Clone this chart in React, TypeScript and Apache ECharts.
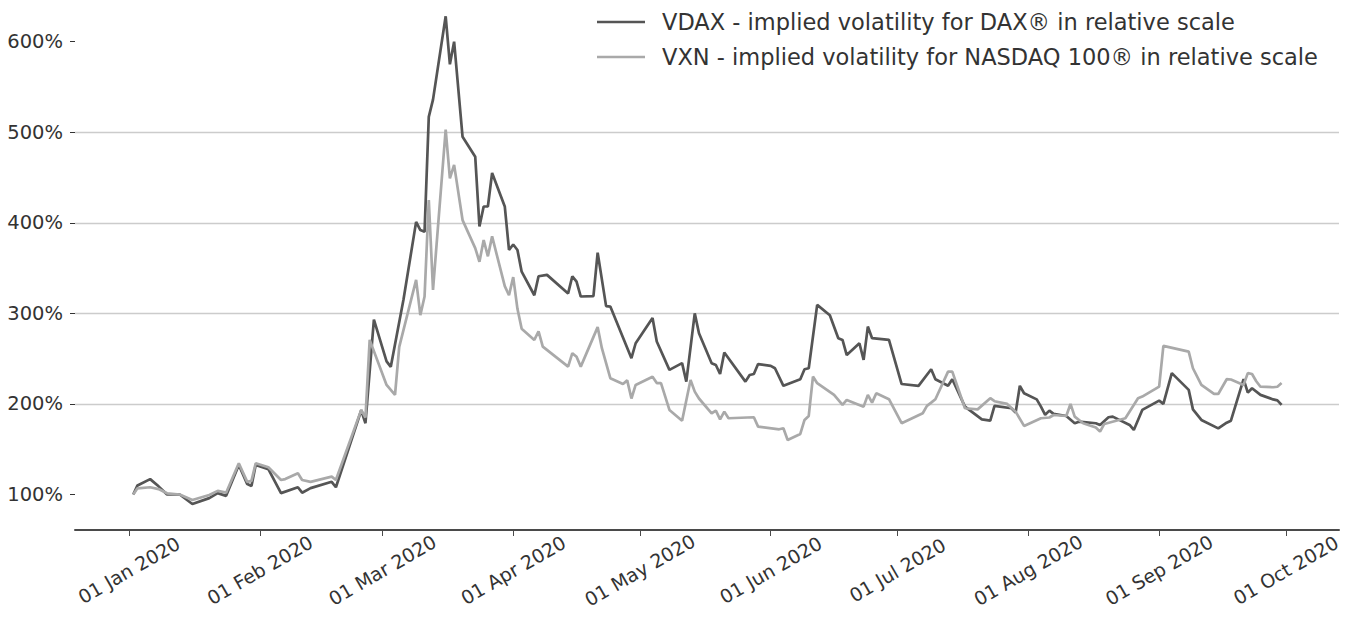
import React, { useEffect, useRef } from "react";
import * as echarts from "echarts";

// ---- data ----
const vdaxDates = [
  "2020-01-02","2020-01-03","2020-01-06","2020-01-08","2020-01-10","2020-01-13","2020-01-16","2020-01-20","2020-01-22","2020-01-24","2020-01-27","2020-01-29","2020-01-30","2020-01-31",
  "2020-02-03","2020-02-06","2020-02-10","2020-02-11","2020-02-13","2020-02-18","2020-02-19","2020-02-25","2020-02-26","2020-02-28",
  "2020-03-02","2020-03-03","2020-03-06","2020-03-09","2020-03-10","2020-03-11","2020-03-12","2020-03-13","2020-03-16","2020-03-17","2020-03-18","2020-03-20","2020-03-23","2020-03-24","2020-03-25","2020-03-26","2020-03-27","2020-03-30","2020-03-31",
  "2020-04-01","2020-04-02","2020-04-03","2020-04-06","2020-04-07","2020-04-09","2020-04-14","2020-04-15","2020-04-16","2020-04-17","2020-04-20","2020-04-21","2020-04-23","2020-04-24","2020-04-29","2020-04-30",
  "2020-05-04","2020-05-05","2020-05-08","2020-05-11","2020-05-12","2020-05-14","2020-05-15","2020-05-18","2020-05-19","2020-05-20","2020-05-21","2020-05-26","2020-05-27","2020-05-28","2020-05-29",
  "2020-06-01","2020-06-02","2020-06-04","2020-06-08","2020-06-09","2020-06-10","2020-06-12","2020-06-15","2020-06-17","2020-06-18","2020-06-19","2020-06-22","2020-06-23","2020-06-24","2020-06-25","2020-06-29",
  "2020-07-02","2020-07-06","2020-07-09","2020-07-10","2020-07-13","2020-07-14","2020-07-17","2020-07-21","2020-07-23","2020-07-24","2020-07-28","2020-07-29","2020-07-30","2020-07-31",
  "2020-08-03","2020-08-04","2020-08-05","2020-08-06","2020-08-07","2020-08-10","2020-08-12","2020-08-13","2020-08-17","2020-08-18","2020-08-20","2020-08-21","2020-08-25","2020-08-26","2020-08-28",
  "2020-09-01","2020-09-02","2020-09-04","2020-09-08","2020-09-09","2020-09-11","2020-09-15","2020-09-17","2020-09-18","2020-09-21","2020-09-22","2020-09-23","2020-09-25","2020-09-28","2020-09-29","2020-09-30",
];
const vdaxValues = [
  100,110,117,109,100,100,89.5,96,101.5,98.5,132.5,111.5,109.5,132.5,
  128,101.5,108,102,107,114,108,193,178.7,293,
  247,241,315,401,392,390,517,536,628,575,600,495,473,396,418,418,455,418,370,
  376,370,346,320,341,342.5,322,341,335,318.6,319,367,308,307.5,250.5,267,
  295,269,237.6,245,224.6,300,278,245,243,233,256.7,224.6,232,233,244,
  242,239.4,220,227.3,238.3,239.4,309.4,298,272.6,270.7,254,267,248.6,285.4,272.6,270.7,
  222,220,238.3,227.3,220,227.3,197,183,181.5,197.8,195.2,190.4,220,211.8,
  205,197,188,192.6,189,186.7,178.7,180.4,178.7,176.8,185.3,186,176.8,171.3,193.4,
  203.7,200,234,215.5,194,182.3,173,179.3,181.5,227.3,212.5,217.3,210,205,204,199,
];

const vxnDates = [
  "2020-01-02","2020-01-03","2020-01-06","2020-01-08","2020-01-10","2020-01-13","2020-01-16","2020-01-20","2020-01-22","2020-01-24","2020-01-27","2020-01-29","2020-01-30","2020-01-31",
  "2020-02-03","2020-02-06","2020-02-07","2020-02-10","2020-02-11","2020-02-13","2020-02-18","2020-02-19","2020-02-25","2020-02-26","2020-02-27",
  "2020-03-02","2020-03-04","2020-03-05","2020-03-09","2020-03-10","2020-03-11","2020-03-12","2020-03-13","2020-03-16","2020-03-17","2020-03-18","2020-03-20","2020-03-23","2020-03-24","2020-03-25","2020-03-26","2020-03-27","2020-03-30","2020-03-31",
  "2020-04-01","2020-04-02","2020-04-03","2020-04-06","2020-04-07","2020-04-08","2020-04-14","2020-04-15","2020-04-16","2020-04-17","2020-04-21","2020-04-22","2020-04-24","2020-04-27","2020-04-28","2020-04-29","2020-04-30",
  "2020-05-04","2020-05-05","2020-05-06","2020-05-08","2020-05-11","2020-05-13","2020-05-14","2020-05-15","2020-05-18","2020-05-19","2020-05-20","2020-05-21","2020-05-22","2020-05-28","2020-05-29",
  "2020-06-03","2020-06-04","2020-06-05","2020-06-08","2020-06-09","2020-06-10","2020-06-11","2020-06-12","2020-06-16","2020-06-18","2020-06-19","2020-06-23","2020-06-24","2020-06-25","2020-06-26","2020-06-29",
  "2020-07-02","2020-07-07","2020-07-08","2020-07-09","2020-07-10","2020-07-13","2020-07-14","2020-07-17","2020-07-20","2020-07-23","2020-07-24","2020-07-27","2020-07-29","2020-07-31",
  "2020-08-04","2020-08-06","2020-08-07","2020-08-10","2020-08-11","2020-08-12","2020-08-14","2020-08-17","2020-08-18","2020-08-19","2020-08-24","2020-08-27","2020-08-28","2020-08-31",
  "2020-09-01","2020-09-02","2020-09-08","2020-09-09","2020-09-11","2020-09-14","2020-09-15","2020-09-17","2020-09-18","2020-09-21","2020-09-22","2020-09-23","2020-09-24","2020-09-25","2020-09-28","2020-09-29","2020-09-30",
];
const vxnValues = [
  100,106.8,108,106,101.3,100,94,99.5,104,102,134.5,114,115,134.5,
  130,116,117,123.4,116,114,119.7,116,193.4,185,270.7,
  221,210,263,337,298,318.6,425,326,503,449,464,403,372,357,381,363,385,330,320,
  340,305,283,270.7,280,263.3,241.2,256,252,241.2,284.8,261.5,228.4,222,226,206,221,
  230,223,223,193.4,181.5,226.5,213.6,206,189.7,192.6,183,191.5,184.2,185.3,175,
  172,173.1,160.2,166.9,182.3,186.7,230.2,222.9,210,198.9,204.4,197,210,201.4,211.8,205.2,
  178.7,189.7,197.8,201.4,205.2,235.7,235.7,195.2,194,206.3,203,200,191.5,175.7,
  184.2,185,187.8,186.7,200,186,178.7,174,169.4,177.9,184.2,206.3,208.1,216.3,
  219.2,264.1,257.8,239.4,221,211,211,227.3,227,221,234,233,225,219,218.4,219,223,
];

const seriesNames = [
  "VDAX - implied volatility for DAX® in relative scale",
  "VXN - implied volatility for NASDAQ 100® in relative scale",
];
const yTickValues = [100, 200, 300, 400, 500, 600];
const monthTicks = [
  "2020-01-01","2020-02-01","2020-03-01","2020-04-01","2020-05-01",
  "2020-06-01","2020-07-01","2020-08-01","2020-09-01","2020-10-01",
];
const monthNames = ["Jan","Feb","Mar","Apr","May","Jun","Jul","Aug","Sep","Oct","Nov","Dec"];

const toTime = (s: string) => {
  const [y, m, d] = s.split("-").map(Number);
  return new Date(y, m - 1, d).getTime();
};
const pad2 = (n: number) => (n < 10 ? "0" + n : "" + n);

export default function App() {
  const ref = useRef<HTMLDivElement>(null);
  useEffect(() => {
    if (!ref.current) return;
    const chart = echarts.init(ref.current, undefined, { renderer: "svg" });
    const DAY = 86400000;
    const jan1 = toTime("2020-01-01");
    const font = "DejaVu Sans";
    const monthTimes = monthTicks.map(toTime);
    chart.setOption({
      animation: false,
      backgroundColor: "#ffffff",
      textStyle: { fontFamily: font },
      grid: { left: 75, right: 21, top: 0, bottom: 89, containLabel: false },
      legend: {
        show: true,
        orient: "vertical",
        left: 592,
        top: 4,
        itemWidth: 48,
        itemHeight: 14,
        itemGap: 9,
        icon: "path://M0,6 L48,6 L48,8.6 L0,8.6 Z",
        textStyle: {
          fontFamily: font,
          fontSize: 22.5,
          color: "#333333",
          lineHeight: 26,
          padding: [0, 0, 0, 12],
        },
        data: seriesNames,
      },
      xAxis: {
        type: "value",
        min: jan1 - 12.8 * DAY,
        max: jan1 + 286.6 * DAY,
        axisLine: { show: true, lineStyle: { color: "#4a4a4a", width: 2 } },
        axisTick: {
          show: true,
          length: 6,
          lineStyle: { color: "#4a4a4a", width: 1 },
          customValues: monthTimes,
        },
        splitLine: { show: false },
        minorTick: { show: false },
        axisLabel: {
          customValues: monthTimes,
          rotate: 30,
          align: "center",
          verticalAlign: "middle",
          margin: 40,
          fontFamily: font,
          fontSize: 19,
          color: "#333333",
          formatter: (v: number) => {
            const d = new Date(v);
            return pad2(d.getDate()) + " " + monthNames[d.getMonth()] + " " + d.getFullYear();
          },
        },
      },
      yAxis: {
        type: "value",
        min: 60.8,
        max: 646,
        minInterval: 100,
        maxInterval: 100,
        axisLine: { show: false },
        axisTick: {
          show: true,
          length: 5,
          lineStyle: { color: "#333333", width: 1 },
          customValues: yTickValues,
        },
        axisLabel: {
          customValues: yTickValues,
          margin: 12,
          fontFamily: font,
          fontSize: 19.5,
          color: "#333333",
          formatter: (v: number) => v + "%",
        },
        splitLine: {
          show: true,
          showMinLine: false,
          showMaxLine: false,
          lineStyle: { color: "#cccccc", width: 1.3 },
        },
      },
      series: [
        {
          name: seriesNames[0],
          type: "line",
          symbol: "none",
          showSymbol: false,
          lineStyle: { color: "#555555", width: 2.7 },
          itemStyle: { color: "#555555" },
          data: vdaxDates.map((d, i) => [toTime(d), vdaxValues[i]]),
        },
        {
          name: seriesNames[1],
          type: "line",
          symbol: "none",
          showSymbol: false,
          lineStyle: { color: "#a9a9a9", width: 2.7 },
          itemStyle: { color: "#a9a9a9" },
          data: vxnDates.map((d, i) => [toTime(d), vxnValues[i]]),
        },
      ],
    });
    return () => chart.dispose();
  }, []);
  return (
    <div
      ref={ref}
      style={{ position: "absolute", left: 0, top: 0, width: 1360, height: 619 }}
    />
  );
}
